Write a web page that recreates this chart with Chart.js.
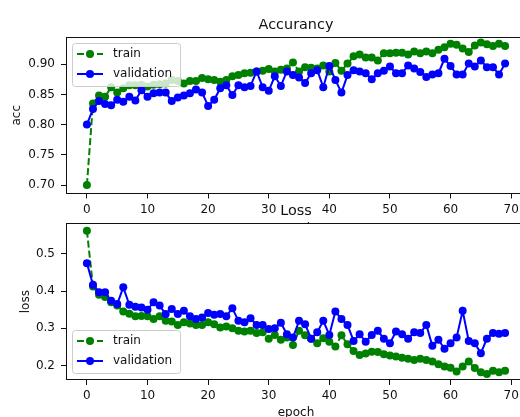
<!DOCTYPE html>
<html>
<head>
<meta charset="utf-8">
<title>Accurancy / Loss</title>
<script src="https://cdn.jsdelivr.net/npm/chart.js@4/dist/chart.umd.min.js"></script>
<style>
  html, body { margin: 0; padding: 0; background: #fff; }
  body { width: 520px; height: 417px; overflow: hidden; position: relative; }
  canvas { position: absolute; left: 0; }
  #accChart { top: 0; }
  #lossChart { top: 195px; }
</style>
</head>
<body>
<canvas id="accChart" width="530" height="240"></canvas>
<canvas id="lossChart" width="530" height="226"></canvas>
<script>
// Training history
const epochs = [
  0, 1, 2, 3, 4, 5, 6, 7, 8, 9,
  10, 11, 12, 13, 14, 15, 16, 17, 18, 19,
  20, 21, 22, 23, 24, 25, 26, 27, 28, 29,
  30, 31, 32, 33, 34, 35, 36, 37, 38, 39,
  40, 41, 42, 43, 44, 45, 46, 47, 48, 49,
  50, 51, 52, 53, 54, 55, 56, 57, 58, 59,
  60, 61, 62, 63, 64, 65, 66, 67, 68, 69
];

const accTrain = [
  0.700, 0.835, 0.848, 0.846, 0.862, 0.853, 0.860, 0.865, 0.865, 0.866,
  0.863, 0.866, 0.867, 0.868, 0.874, 0.872, 0.868, 0.872, 0.872, 0.877,
  0.875, 0.874, 0.871, 0.874, 0.880, 0.882, 0.885, 0.886, 0.888, 0.889,
  0.892, 0.888, 0.891, 0.893, 0.903, 0.888, 0.895, 0.894, 0.893, 0.898,
  0.888, 0.902, 0.889, 0.901, 0.913, 0.916, 0.911, 0.911, 0.906, 0.918,
  0.918, 0.919, 0.919, 0.916, 0.921, 0.918, 0.921, 0.918, 0.924, 0.928,
  0.934, 0.932, 0.926, 0.920, 0.931, 0.936, 0.933, 0.930, 0.934, 0.930
];

const accVal = [
  0.800, 0.826, 0.839, 0.834, 0.832, 0.841, 0.838, 0.846, 0.840, 0.857,
  0.846, 0.852, 0.853, 0.853, 0.839, 0.845, 0.848, 0.852, 0.858, 0.853,
  0.831, 0.841, 0.860, 0.865, 0.849, 0.865, 0.862, 0.864, 0.888, 0.862,
  0.856, 0.880, 0.864, 0.888, 0.882, 0.878, 0.869, 0.885, 0.890, 0.862,
  0.897, 0.874, 0.853, 0.882, 0.890, 0.888, 0.885, 0.875, 0.885, 0.889,
  0.896, 0.885, 0.885, 0.898, 0.893, 0.887, 0.879, 0.883, 0.885, 0.909,
  0.897, 0.883, 0.883, 0.901, 0.896, 0.906, 0.895, 0.895, 0.883, 0.901
];

const lossTrain = [
  0.562, 0.412, 0.390, 0.384, 0.370, 0.361, 0.345, 0.339, 0.332, 0.333,
  0.332, 0.325, 0.332, 0.320, 0.318, 0.309, 0.316, 0.313, 0.309, 0.309,
  0.316, 0.311, 0.302, 0.305, 0.300, 0.293, 0.291, 0.293, 0.287, 0.289,
  0.272, 0.282, 0.269, 0.275, 0.255, 0.293, 0.281, 0.272, 0.260, 0.273,
  0.264, 0.251, 0.281, 0.257, 0.239, 0.228, 0.232, 0.237, 0.236, 0.230,
  0.227, 0.224, 0.221, 0.218, 0.215, 0.218, 0.215, 0.211, 0.203, 0.197,
  0.194, 0.184, 0.197, 0.211, 0.193, 0.182, 0.177, 0.186, 0.182, 0.186
];

const lossVal = [
  0.475, 0.417, 0.397, 0.397, 0.374, 0.365, 0.410, 0.363, 0.358, 0.356,
  0.350, 0.370, 0.361, 0.338, 0.352, 0.338, 0.347, 0.332, 0.325, 0.329,
  0.341, 0.336, 0.338, 0.332, 0.354, 0.320, 0.316, 0.327, 0.309, 0.309,
  0.298, 0.300, 0.315, 0.284, 0.275, 0.320, 0.311, 0.272, 0.289, 0.320,
  0.282, 0.345, 0.325, 0.309, 0.266, 0.284, 0.264, 0.282, 0.293, 0.272,
  0.260, 0.291, 0.284, 0.272, 0.289, 0.287, 0.309, 0.253, 0.269, 0.245,
  0.260, 0.275, 0.347, 0.266, 0.260, 0.233, 0.272, 0.287, 0.285, 0.287
];

const seriesNames = ['train', 'validation'];

// Tick values and their labels
const xTicks = [0, 10, 20, 30, 40, 50, 60, 70];
const xTickLabels = ['0', '10', '20', '30', '40', '50', '60', '70'];
const accTicks = [0.70, 0.75, 0.80, 0.85, 0.90];
const accTickLabels = ['0.70', '0.75', '0.80', '0.85', '0.90'];
const lossTicks = [0.2, 0.3, 0.4, 0.5];
const lossTickLabels = ['0.2', '0.3', '0.4', '0.5'];

const FONT = '"DejaVu Sans", sans-serif';
const INK = '#111';
const GREEN = '#008000';
const BLUE = '#0000ff';

Chart.defaults.font.family = FONT;
Chart.defaults.font.size = 12;
Chart.defaults.color = INK;

function toPoints(values) {
  return values.map((v, i) => ({ x: epochs[i], y: v }));
}

// Draws the white axes face, the frame, the title and a matplotlib-like legend
const panelPlugin = {
  id: 'panel',
  beforeDraw(chart) {
    const { ctx, chartArea: a } = chart;
    ctx.save();
    ctx.fillStyle = '#fff';
    ctx.fillRect(a.left, a.top, a.right - a.left, a.bottom - a.top);
    ctx.restore();
  },
  afterDatasetsDraw(chart, args, opts) {
    const { ctx, chartArea: a } = chart;
    ctx.save();
    // frame
    ctx.strokeStyle = INK;
    ctx.lineWidth = 1;
    ctx.strokeRect(Math.round(a.left) + 0.5, Math.round(a.top) + 0.5,
      Math.round(a.right - a.left) - 1, Math.round(a.bottom - a.top) - 1);

    // title
    ctx.fillStyle = INK;
    ctx.font = '14.4px ' + FONT;
    ctx.textAlign = 'center';
    ctx.textBaseline = 'alphabetic';
    ctx.fillText(opts.title, (a.left + a.right) / 2, a.top - 8);

    // legend
    ctx.font = '12px ' + FONT;
    const textW = Math.max(...seriesNames.map(n => ctx.measureText(n).width));
    const bw = 41 + textW + 8;
    const bh = 43;
    const bx = a.left + 6;
    const by = opts.legendAt === 'top' ? a.top + 6 : a.bottom - 7 - bh;
    ctx.fillStyle = 'rgba(255,255,255,0.8)';
    ctx.strokeStyle = '#cccccc';
    ctx.beginPath();
    if (ctx.roundRect) ctx.roundRect(bx + 0.5, by + 0.5, bw, bh, 3);
    else ctx.rect(bx + 0.5, by + 0.5, bw, bh);
    ctx.fill();
    ctx.stroke();

    const colors = [GREEN, BLUE];
    const dashes = [[7, 3], []];
    seriesNames.forEach((name, i) => {
      const yy = by + 11 + i * 20;
      ctx.strokeStyle = colors[i];
      ctx.lineWidth = 2;
      ctx.setLineDash(dashes[i]);
      ctx.beginPath();
      ctx.moveTo(bx + 5, yy);
      ctx.lineTo(bx + 31, yy);
      ctx.stroke();
      ctx.setLineDash([]);
      ctx.fillStyle = colors[i];
      ctx.beginPath();
      ctx.arc(bx + 18, yy, 4, 0, Math.PI * 2);
      ctx.fill();
      ctx.fillStyle = INK;
      ctx.textAlign = 'left';
      ctx.textBaseline = 'middle';
      ctx.fillText(name, bx + 41, yy);
    });
    ctx.restore();
  }
};

function xScale(axisHeight, titlePad) {
  return {
    type: 'linear',
    min: -3.45,
    max: 72.45,
    afterBuildTicks: s => { s.ticks = xTicks.map(v => ({ value: v })); },
    afterFit: s => { s.height = axisHeight; },
    ticks: { callback: (v, i) => xTickLabels[i], padding: 4, maxRotation: 0, autoSkip: false, color: INK },
    grid: { drawOnChartArea: false, drawTicks: true, tickLength: 5, color: INK },
    border: { display: false },
    title: { display: true, text: 'epoch', color: INK, padding: { top: 0, bottom: titlePad } }
  };
}

function yScale(min, max, ticks, labels, title, titlePad) {
  return {
    type: 'linear',
    min: min,
    max: max,
    afterBuildTicks: s => { s.ticks = ticks.map(v => ({ value: v })); },
    afterFit: s => { s.width = 66; },
    ticks: { callback: (v, i) => labels[i], padding: 6, color: INK },
    grid: { drawOnChartArea: false, drawTicks: true, tickLength: 5, color: INK },
    border: { display: false },
    title: { display: true, text: title, color: INK, padding: { top: titlePad, bottom: 0 } }
  };
}

function datasets(train, val) {
  return [
    {
      label: seriesNames[0],
      data: toPoints(train),
      borderColor: GREEN,
      backgroundColor: GREEN,
      borderWidth: 2,
      borderDash: [7, 3],
      pointRadius: 4,
      pointHoverRadius: 4,
      pointBorderWidth: 0,
      pointBackgroundColor: GREEN,
      tension: 0,
      order: 2
    },
    {
      label: seriesNames[1],
      data: toPoints(val),
      borderColor: BLUE,
      backgroundColor: BLUE,
      borderWidth: 2,
      pointRadius: 4,
      pointHoverRadius: 4,
      pointBorderWidth: 0,
      pointBackgroundColor: BLUE,
      tension: 0,
      order: 1
    }
  ];
}

function makeChart(id, cfg) {
  return new Chart(document.getElementById(id), {
    type: 'line',
    data: { datasets: datasets(cfg.train, cfg.val) },
    options: {
      responsive: false,
      animation: false,
      devicePixelRatio: 1,
      events: [],
      layout: { padding: { top: cfg.top, right: 3, left: 0, bottom: 0 } },
      scales: { x: cfg.x, y: cfg.y },
      plugins: {
        legend: { display: false },
        tooltip: { enabled: false },
        title: { display: false },
        panel: { title: cfg.title, legendAt: cfg.legendAt }
      }
    },
    plugins: [panelPlugin]
  });
}

makeChart('accChart', {
  train: accTrain,
  val: accVal,
  top: 37,
  title: 'Accurancy',
  legendAt: 'top',
  x: xScale(46.5, 4),
  y: yScale(0.686, 0.945, accTicks, accTickLabels, 'acc', 10)
});

makeChart('lossChart', {
  train: lossTrain,
  val: lossVal,
  top: 28.3,
  title: 'Loss',
  legendAt: 'bottom',
  x: xScale(41, 1),
  y: yScale(0.161, 0.582, lossTicks, lossTickLabels, 'loss', 18.6)
});
</script>
</body>
</html>
